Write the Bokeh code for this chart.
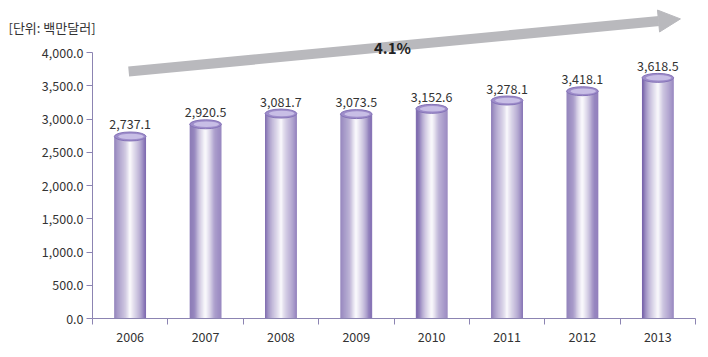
from bokeh.plotting import figure
from bokeh.models import (ColumnDataSource, Range1d, FixedTicker, Label, LabelSet,
                          Arrow, NormalHead)
from bokeh.transform import dodge
from bokeh.core.properties import value
from bokeh.embed import file_html
from bokeh.resources import INLINE

# ---- data ----
years = ["2006", "2007", "2008", "2009", "2010", "2011", "2012", "2013"]
values = [2737.1, 2920.5, 3081.7, 3073.5, 3152.6, 3278.1, 3418.1, 3618.5]
value_labels = ["2,737.1", "2,920.5", "3,081.7", "3,073.5", "3,152.6", "3,278.1", "3,418.1", "3,618.5"]
y_ticks = [0, 500, 1000, 1500, 2000, 2500, 3000, 3500, 4000]
y_tick_labels = ["0.0", "500.0", "1,000.0", "1,500.0", "2,000.0", "2,500.0", "3,000.0", "3,500.0", "4,000.0"]
unit_label = "[단위: 백만달러]"
growth_label = "4.1%"

FONT = "Noto Sans CJK KR"
AXIS_COLOR = "#8C84B2"
TEXT_COLOR = "#333333"
ARROW_COLOR = "#B9B9BD"
BAR_W = 0.42

n = len(years)
xpos = [i + 0.5 for i in range(n)]
src = ColumnDataSource(dict(x=xpos, top=values, label=value_labels))

# frame covers the whole canvas; both axes pinned inside it at 0
px_per_cat = 603 / n
px_per_unit = 266 / 4000
x_range = Range1d(-92 / px_per_cat, n + 13 / px_per_cat)
y_range = Range1d(-(357 - 318) / px_per_unit, 318 / px_per_unit)

p = figure(width=708, height=357, x_range=x_range, y_range=y_range,
           output_backend="svg", toolbar_location=None,
           min_border_left=0, min_border_right=0, min_border_top=0, min_border_bottom=0)
p.outline_line_color = None
p.grid.visible = False
p.background_fill_color = "white"

# ---- axes ----
p.yaxis.fixed_location = 0
p.yaxis.ticker = FixedTicker(ticks=y_ticks, minor_ticks=[])
p.yaxis.major_label_overrides = {t: s for t, s in zip(y_ticks, y_tick_labels)}
p.yaxis.bounds = (0, 4000)
p.yaxis.axis_line_color = AXIS_COLOR
p.yaxis.major_tick_line_color = AXIS_COLOR
p.yaxis.major_tick_out = 6
p.yaxis.major_tick_in = 0
p.yaxis.major_label_standoff = 3
p.yaxis.major_label_text_font = FONT
p.yaxis.major_label_text_font_size = "12.5px"
p.yaxis.major_label_text_color = TEXT_COLOR

p.xaxis.fixed_location = 0
p.xaxis.ticker = FixedTicker(ticks=xpos, minor_ticks=list(range(n + 1)))
p.xaxis.major_label_overrides = {x: y for x, y in zip(xpos, years)}
p.xaxis.bounds = (0, n)
p.xaxis.axis_line_color = AXIS_COLOR
p.xaxis.major_tick_line_color = None
p.xaxis.major_tick_out = 0
p.xaxis.major_tick_in = 0
p.xaxis.minor_tick_line_color = AXIS_COLOR
p.xaxis.minor_tick_out = 6
p.xaxis.minor_tick_in = 0
p.xaxis.major_label_standoff = 7
p.xaxis.major_label_text_font = FONT
p.xaxis.major_label_text_font_size = "12.5px"
p.xaxis.major_label_text_color = TEXT_COLOR


# ---- cylinder bars (gradient via thin strips) ----
def hex2rgb(h):
    h = h.lstrip("#")
    return tuple(int(h[i:i + 2], 16) for i in (0, 2, 4))


def mix(c1, c2, t):
    a, b = hex2rgb(c1), hex2rgb(c2)
    return "#%02x%02x%02x" % tuple(round(a[i] + (b[i] - a[i]) * t) for i in range(3))


N = 30
left_edge, right_edge = "#7662AA", "#7E6AB0"
for i in range(N):
    t = (i + 0.5) / N
    edge = mix(left_edge, right_edge, t)
    f = max(0.0, 1 - abs(2 * t - 1)) ** 1.1
    col = mix(edge, "#FFFFFF", f * 0.97)
    off = -BAR_W / 2 + (i + 0.5) * BAR_W / N
    p.vbar(x=dodge("x", off), top="top", bottom=0, width=BAR_W / N * 1.05, source=src,
           fill_color=col, line_color=None)

# top caps
p.ellipse(x="x", y="top", width=BAR_W, height=9, height_units="screen", source=src,
          fill_color="#9E8DCA", line_color="#8573B8", line_width=1)
p.ellipse(x=dodge("x", 0.01), y="top", width=BAR_W * 0.8, height=5.5, height_units="screen", source=src,
          fill_color="#C8BEE6", line_color=None)

# value labels
labels = LabelSet(x="x", y="top", text="label", source=src, y_offset=7,
                  text_align="center", text_baseline="bottom",
                  text_font=value(FONT), text_font_size=value("12.5px"), text_color=value(TEXT_COLOR))
p.add_layout(labels)

# ---- growth arrow ----
arrow = Arrow(x_start=0.48, y_start=3714, x_end=7.8, y_end=4505,
              line_color=ARROW_COLOR, line_width=10, line_cap="butt",
              end=NormalHead(size=22, fill_color=ARROW_COLOR, line_color=ARROW_COLOR, line_width=1))
p.add_layout(arrow)

p.add_layout(Label(x=3.98, y=4075, text=growth_label, text_align="center", text_baseline="middle",
                   text_font=FONT, text_font_size="15px", text_font_style="bold", text_color="#222222"))

# unit label
p.add_layout(Label(x=-84 / px_per_cat, y=(318 - 27) / px_per_unit, text=unit_label,
                   text_align="left", text_baseline="middle",
                   text_font=FONT, text_font_size="13px", text_color=TEXT_COLOR))

open("out.html", "w").write(file_html(p, INLINE))
